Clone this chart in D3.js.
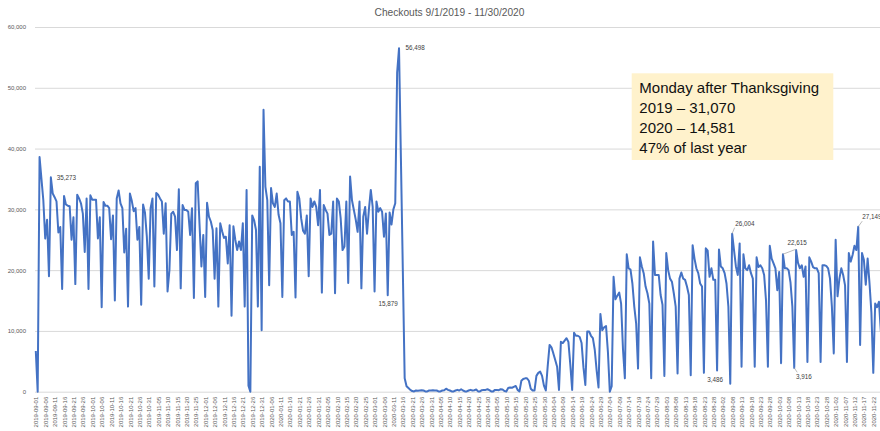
<!DOCTYPE html>
<html><head><meta charset="utf-8">
<script src="https://cdn.jsdelivr.net/npm/d3@7"></script>
<style>
body{margin:0;background:#fff;}
svg{display:block;font-family:"Liberation Sans",Arial,sans-serif;}
</style>
</head><body>
<svg id="c" width="880" height="431"></svg>
<script>
// ---------- DATA ----------
const closedDays = ["2019-11-28","2020-01-01","2020-09-07","2020-11-26"];
const sep2019 = [6700,0,38600,35000,31500,25200,28300,19000,35273,32600,32000,31300,26200,27100,16900,32200,30800,30600,30500,25000,28700,17700,32400,31800,31000,29300,23000,31800,16900,32300];
const oct2019 = [31600,31600,31600,25200,28700,13900,31200,30600,30600,30200,25100,29000,15000,31800,33100,31000,30200,22900,26800,14000,32600,31400,29700,30200,25000,27100,14300,30800,29500,25500,18600];
const nov2019 = [30200,31800,17300,32700,32400,31800,31300,26000,31000,16500,20000,29300,29600,28800,23300,33300,17000,30700,29900,29900,29600,25800,30200,15400,34300,34600,27500,20600,25800];
const dec2019 = [15600,31070,28800,28000,26600,18600,26900,14000,27700,26400,25300,25500,21100,27400,12500,27200,25000,23300,24700,23300,27700,14000,33200,1000,0,29000,28200,26600,14000,37000,10100];
const jan2020 = [46400,33700,31500,17500,33500,31000,30400,32600,29100,27700,15600,31500,31800,31300,31300,25800,26300,15500,32900,31800,28500,26500,26000,29000,19000,31800,30400,31300,30400,27400];
const feb2020 = [33200,16300,30700,29900,29300,25800,26000,31300,16200,31800,31300,28500,23300,23900,31300,17900,35400,31500,29900,28300,26300,31300,17000,28800,30400,26000,30000,33200,30400];
const mar2020 = [16500,31300,29600,30200,29600,25500,29300,15879,29500,27500,30000,31000,52500,56498,38400,20300,2200,900,600,300,100,50,200,150,200,250,200,50,50,200,200];
const apr2020 = [250,200,200,50,50,200,250,500,300,200,50,50,200,300,200,400,200,50,50,200,300,200,250,350,50,50,250,300,300,400];
const may2020 = [250,50,50,300,300,250,400,350,100,50,600,700,650,800,950,300,50,1800,2100,2200,2200,1800,500,200,200,2600,3100,3300,2600,1000,200];
const jun2020 = [4200,7700,7300,6300,5200,4100,300,8200,8000,8400,8800,8200,4500,300,9700,9200,9200,9000,8000,4000,1100,9900,9900,9200,8800,6900,3500,700,12800,10100];
const jul2020 = [10600,10800,6500,0,900,18900,15200,15800,16300,14500,7000,2200,22600,20300,20100,17800,14000,11200,3800,22100,20600,19500,17300,16200,14500,2200,24700,19200,19200,19200,15900];
const aug2020 = [14300,2600,22800,20000,18600,18100,16200,14000,3000,18600,19600,18600,18400,17300,15900,2700,24100,21900,20300,19500,17800,17300,3100,23600,23200,18900,20300,18400,18400,3486,23400];
const sep2020 = [20600,20300,19500,17800,14000,1300,26004,23300,20600,19200,24400,4100,22600,20300,20000,20800,19500,18600,4100,22100,20500,20800,20300,19200,15000,4100,24000,21900,21100];
const oct2020 = [20300,16700,19700,4700,22615,20300,20300,20000,18000,14000,3916,23300,21200,20300,20800,18900,20600,4900,22100,21400,20500,20300,20300,19500,4900,20800,20800,20700,20300,18600,14000];
const nov2020 = [6300,25000,15700,18600,20300,19200,17500,4900,22800,21400,22500,24000,23300,27149,7700,22800,21700,17600,21900,17800,13000,3100,14500,13900,14800,10000,9000,2000,14581];
const months = [["2019-09",sep2019],["2019-10",oct2019],["2019-11",nov2019],["2019-12",dec2019],
  ["2020-01",jan2020],["2020-02",feb2020],["2020-03",mar2020],["2020-04",apr2020],["2020-05",may2020],
  ["2020-06",jun2020],["2020-07",jul2020],["2020-08",aug2020],["2020-09",sep2020],["2020-10",oct2020],["2020-11",nov2020]];
const yTicks = [0,10000,20000,30000,40000,50000,60000];
const titleText = "Checkouts 9/1/2019 - 11/30/2020";
const noteLines = ["Monday after Thanksgiving","2019 \u2013 31,070","2020 \u2013 14,581","47% of last year"];
const labelDates = ["2019-09-09","2020-03-14","2020-03-08","2020-08-30","2020-09-08","2020-10-05","2020-10-11","2020-11-14"];

// ---------- BUILD ROWS ----------
const data = [];
months.forEach(([m, vals]) => {
  const [yy, mm] = m.split("-").map(Number);
  const nd = new Date(Date.UTC(yy, mm, 0)).getUTCDate();
  const days = [];
  for (let d = 1; d <= nd; d++) {
    const s = `${m}-${String(d).padStart(2,"0")}`;
    if (!closedDays.includes(s)) days.push(s);
  }
  days.forEach((s, i) => data.push({date: s, value: vals[i]}));
});
const categories = data.map(d => d.date);
const n = categories.length;

// ---------- SCALES ----------
const W = 880;
const svg = d3.select("#c");
const x0 = 35.8, step = 1.882;
const x = d3.scalePoint().domain(categories).range([x0, x0 + step * (n - 1)]);
const y = d3.scaleLinear().domain([0, 60000]).range([391.7, 27]);

// gridlines + y labels
const gy = svg.append("g").attr("transform", "translate(35,0)")
  .call(d3.axisLeft(y).tickValues(yTicks).tickSize(-900).tickPadding(9).tickFormat(d3.format(",")));
gy.select(".domain").remove();
gy.selectAll("line").attr("stroke", "#d9d9d9").attr("stroke-width", 1);
gy.selectAll("text").attr("fill", "#595959").style("font-size", "6px");

// x labels (every 5th category, only those inside the visible frame)
const xTicks = categories.filter((d, i) => i % 5 === 0 && x(d) < W - 5);
const gx = svg.append("g").attr("transform", `translate(0,${y(0)})`)
  .call(d3.axisBottom(x).tickValues(xTicks).tickSize(0).tickPadding(0));
gx.select(".domain").remove();
gx.selectAll("text")
  .attr("transform", "rotate(-90)")
  .attr("x", -5).attr("y", 0).attr("dy", "0.35em")
  .style("text-anchor", "end")
  .attr("fill", "#595959").style("font-size", "6px");

// line
const line = d3.line().x(d => x(d.date)).y(d => y(d.value));
svg.append("path").datum(data)
  .attr("d", line).attr("fill", "none")
  .attr("stroke", "#4472C4").attr("stroke-width", 2)
  .attr("stroke-linejoin", "round");

// data labels
const place = {
  "2019-09-09": {dx: 6, dy: 0, anchor: "start"},
  "2020-03-14": {dx: 6.5, dy: 0, anchor: "start"},
  "2020-03-08": {dx: 0.5, dy: 9, anchor: "middle"},
  "2020-08-30": {dx: -2, dy: 9, anchor: "middle"},
  "2020-09-08": {dx: 3, dy: -9.5, anchor: "start", lead: [2.5, -6]},
  "2020-10-05": {dx: 4.5, dy: -11.5, anchor: "start", lead: [13, -5]},
  "2020-10-11": {dx: 1.7, dy: 8.8, anchor: "start", lead: [3, 4.4]},
  "2020-11-14": {dx: 4, dy: -10, anchor: "start", lead: [4, -5.5]}
};
const fmt = d3.format(",");
labelDates.forEach(dt => {
  const row = data.find(d => d.date === dt);
  const px = x(dt), py = y(row.value), p = place[dt];
  if (p.lead) {
    svg.append("line").attr("x1", px).attr("y1", py)
      .attr("x2", px + p.lead[0]).attr("y2", py + p.lead[1])
      .attr("stroke", "#a6a6a6").attr("stroke-width", 0.75);
  }
  svg.append("text").attr("x", px + p.dx).attr("y", py + p.dy).attr("dy", "0.35em")
    .attr("text-anchor", p.anchor).attr("fill", "#404040")
    .style("font-size", "6.3px").text(fmt(row.value));
});

// title
svg.append("text").attr("x", 449.5).attr("y", 12.7).attr("dy", "0.35em")
  .attr("text-anchor", "middle").attr("fill", "#595959")
  .style("font-size", "10.2px").text(titleText);

// annotation box
const box = svg.append("g");
box.append("rect").attr("x", 631.7).attr("y", 73.3).attr("width", 201.6).attr("height", 86.7)
  .attr("fill", "#fff2cc");
box.selectAll("text.note").data(noteLines).join("text")
  .attr("class", "note")
  .attr("x", 639.3).attr("y", (d, i) => 87.3 + i * 20).attr("dy", "0.35em")
  .attr("fill", "#111").style("font-size", "15px").text(d => d);
</script>
</body></html>
